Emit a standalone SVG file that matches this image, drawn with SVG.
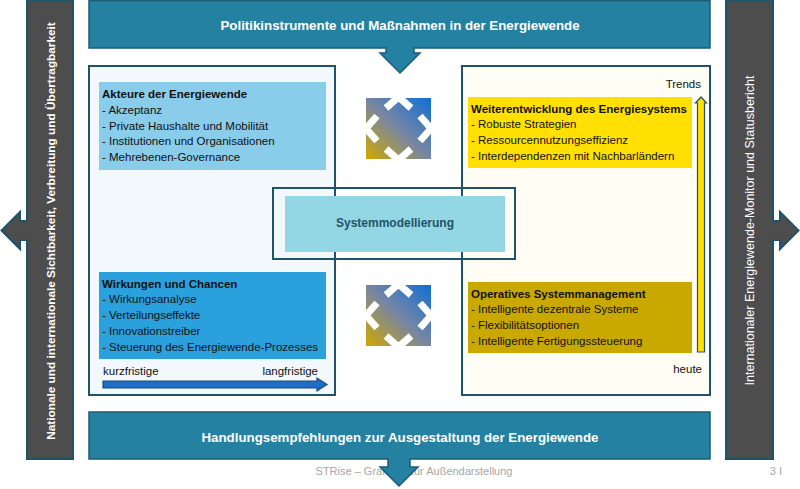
<svg xmlns="http://www.w3.org/2000/svg" width="800" height="489" viewBox="0 0 800 489">
<style>
  text { font-family: "Liberation Sans", Arial, sans-serif; }
  .banner { fill: #2581a1; stroke: #1d5a74; stroke-width: 1.5; }
  .bar { fill: #4d4d4d; stroke: #1f5468; stroke-width: 2; }
  .panel { stroke: #1f5468; stroke-width: 2; }
  .btitle { font-size: 13.3px; font-weight: bold; fill: #ffffff; text-anchor: middle; }
  .ttl { font-size: 11.5px; font-weight: bold; fill: #111111; }
  .itm { font-size: 11.5px; fill: #111111; }
  .lbl { font-size: 11.5px; fill: #111111; }
  .chev { fill: none; stroke: #ffffff; stroke-width: 7; stroke-linecap: butt; stroke-linejoin: miter; }
</style>
<defs>
  <linearGradient id="grad" x1="0" y1="1" x2="1" y2="0">
    <stop offset="0" stop-color="#d0a800"/>
    <stop offset="0.5" stop-color="#7686a4"/>
    <stop offset="1" stop-color="#0f6fd6"/>
  </linearGradient>
</defs>
<rect width="800" height="489" fill="#ffffff"/>

<g id="left-bar">
  <path class="bar" d="M27,0.5 H73 V459 H27 V240 H20 V249 L1.5,230.5 L20,212 V221 H27 Z"/>
  <text transform="translate(54.5,231) rotate(-90)" text-anchor="middle" font-size="11.8" font-weight="bold" fill="#ffffff">Nationale und internationale Sichtbarkeit, Verbreitung und Übertragbarkeit</text>
</g>

<g id="right-bar">
  <path class="bar" d="M726,0.5 H773 V221 H780 V212 L798.5,230.5 L780,249 V240 H773 V459 H726 Z"/>
  <text transform="translate(753.5,230.5) rotate(-90)" text-anchor="middle" font-size="12.5" fill="#ffffff">Internationaler Energiewende-Monitor und Statusbericht</text>
</g>

<g id="left-panel">
  <rect class="panel" x="89" y="66" width="246" height="329" fill="#f2f8fc"/>
</g>
<g id="right-panel">
  <rect class="panel" x="462" y="66" width="248" height="329" fill="#fffdf4"/>
</g>

<g id="top-banner">
  <path class="banner" d="M89,0.5 H710 V48 H414 V53 H420 L400,73 L380,53 H386 V48 H89 Z"/>
  <text class="btitle" x="400" y="30">Politikinstrumente und Maßnahmen in der Energiewende</text>
</g>

<g id="footer">
  <text x="414" y="475" font-size="11" fill="#a6a6a6" text-anchor="middle">STRise – Grafiken zur Außendarstellung</text>
  <text x="782" y="475" font-size="11" fill="#a6a6a6" text-anchor="end">3 I</text>
</g>

<g id="bottom-banner">
  <path class="banner" d="M89,412 H710 V459 H410 V467 H418 L399,486 L380,467 H388 V459 H89 Z"/>
  <text class="btitle" x="400" y="442">Handlungsempfehlungen zur Ausgestaltung der Energiewende</text>
</g>

<g id="akteure">
  <rect x="99" y="82" width="227" height="88" fill="#89cdeb"/>
  <text class="ttl" x="102" y="98">Akteure der Energiewende</text>
  <text class="itm" x="102" y="113.5">- Akzeptanz</text>
  <text class="itm" x="102" y="129.5">- Private Haushalte und Mobilität</text>
  <text class="itm" x="102" y="145">- Institutionen und Organisationen</text>
  <text class="itm" x="102" y="161">- Mehrebenen-Governance</text>
</g>

<g id="wirkungen">
  <rect x="99" y="272" width="227" height="87" fill="#2aa0dc"/>
  <text class="ttl" x="102" y="288">Wirkungen und Chancen</text>
  <text class="itm" x="102" y="303">- Wirkungsanalyse</text>
  <text class="itm" x="102" y="319">- Verteilungseffekte</text>
  <text class="itm" x="102" y="334.5">- Innovationstreiber</text>
  <text class="itm" x="102" y="350.5">- Steuerung des Energiewende-Prozesses</text>
</g>

<g id="weiterentwicklung">
  <rect x="468" y="97" width="224" height="71" fill="#ffe000"/>
  <text class="ttl" x="471" y="112.5">Weiterentwicklung des Energiesystems</text>
  <text class="itm" x="471" y="128">- Robuste Strategien</text>
  <text class="itm" x="471" y="143.5">- Ressourcennutzungseffizienz</text>
  <text class="itm" x="471" y="159.5">- Interdependenzen mit Nachbarländern</text>
</g>

<g id="operatives">
  <rect x="468" y="282" width="224" height="71" fill="#c9a800"/>
  <text class="ttl" x="471" y="297.5">Operatives Systemmanagement</text>
  <text class="itm" x="471" y="313">- Intelligente dezentrale Systeme</text>
  <text class="itm" x="471" y="329">- Flexibilitätsoptionen</text>
  <text class="itm" x="471" y="345">- Intelligente Fertigungssteuerung</text>
</g>

<g id="systemmodellierung">
  <rect x="285" y="196" width="220" height="56" fill="#93d6e4"/>
  <rect x="273" y="188" width="242" height="71" fill="none" stroke="#1f5468" stroke-width="2"/>
  <text x="395" y="227" text-anchor="middle" font-size="12" font-weight="bold" fill="#1f5468">Systemmodellierung</text>
</g>

<g id="icon-top">
  <rect x="366" y="98" width="65" height="61" fill="url(#grad)"/>
  <polyline class="chev" points="386,108 398.5,97 411,108"/>
  <polyline class="chev" points="411,149 398.5,160 386,149"/>
  <polyline class="chev" points="377,116 366,128.5 377,141"/>
  <polyline class="chev" points="420,116 431,128.5 420,141"/>
</g>

<g id="icon-bottom">
  <rect x="366" y="285" width="65" height="61" fill="url(#grad)"/>
  <polyline class="chev" points="386,295 398.5,284 411,295"/>
  <polyline class="chev" points="411,336 398.5,347 386,336"/>
  <polyline class="chev" points="377,303 366,315.5 377,328"/>
  <polyline class="chev" points="420,303 431,315.5 420,328"/>
</g>

<g id="connectors">
  <path d="M103,381 H317 V378 L327,384.5 L317,391 V388 H103 Z" fill="#1e6ec8" stroke="#1f4e79" stroke-width="1.2"/>
  <text class="lbl" x="103" y="375">kurzfristige</text>
  <text class="lbl" x="318" y="375" text-anchor="end">langfristige</text>
  <path d="M697.5,352 V103 H695.5 L701,97 L706.5,103 H704.5 V352 Z" fill="#ffe000" stroke="#1f5468" stroke-width="1.2"/>
  <text class="lbl" x="701" y="88" text-anchor="end">Trends</text>
  <text class="lbl" x="702" y="373" text-anchor="end">heute</text>
</g>
</svg>
